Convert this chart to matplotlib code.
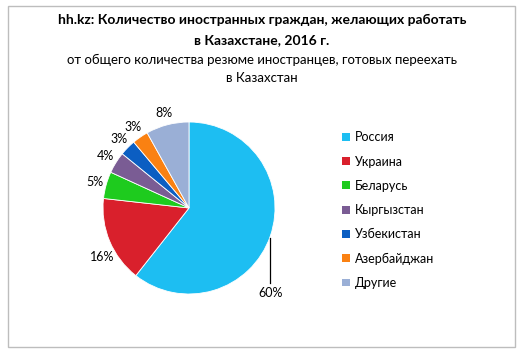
import numpy as np
import matplotlib
matplotlib.use("Agg")
import matplotlib.pyplot as plt
from matplotlib.patches import Rectangle, Patch

plt.rcParams['font.family'] = ['Lato', 'DejaVu Sans']

categories = ["Россия", "Украина", "Беларусь", "Кыргызстан", "Узбекистан", "Азербайджан", "Другие"]
values = [60, 16, 5, 4, 3, 3, 8]
colors = ["#1DBEF2", "#D9202C", "#1ECB1E", "#7A5C94", "#0B5EC2", "#FA8112", "#9AAFD6"]
title_lines = ["hh.kz: Количество иностранных граждан, желающих работать", "в Казахстане, 2016 г."]
subtitle_lines = ["от общего количества резюме иностранцев, готовых переехать", "в Казахстан"]

W, H = 526, 358
fig = plt.figure(figsize=(W / 100, H / 100), dpi=100)

# frame
fig.patches.append(Rectangle((8 / W, 1 - 347 / H), (515 - 8) / W, (347 - 6) / H,
                             transform=fig.transFigure, fill=False, edgecolor="#BDBDBD", lw=1))

cx, cy, R = 189, 208, 86
lim = 1.6
S = 2 * lim * R
ax = fig.add_axes([(cx - S / 2) / W, (H - cy - S / 2) / H, S / W, S / H])

wedges, _ = ax.pie(values, colors=colors, startangle=90, counterclock=False, radius=1,
                   wedgeprops=dict(linewidth=0.6, edgecolor="white"))
ax.set_xlim(-lim, lim)
ax.set_ylim(-lim, lim)
ax.set_aspect('equal')
ax.axis('off')

for i, (w, v) in enumerate(zip(wedges, values)):
    th = np.deg2rad((w.theta1 + w.theta2) / 2)
    if i == 0:
        x0, y0 = np.cos(th), np.sin(th)
        ax.plot([x0, x0], [y0 - 0.02, y0 - 0.55], color="black", lw=0.9)
        ax.text(x0, y0 - 0.66, f"{v}%", ha="center", va="center", fontsize=9)
    else:
        d = 1.14
        if i == 1:
            th = th + np.deg2rad(7)
            d = 1.16
        ax.text(d * np.cos(th), d * np.sin(th), f"{v}%", ha="center", va="center", fontsize=9)

for k, t in enumerate(title_lines):
    fig.text(262 / W, 1 - (20 + 20 * k) / H, t, ha="center", va="center", fontsize=10, fontweight="bold")
for k, t in enumerate(subtitle_lines):
    fig.text(262 / W, 1 - (60 + 18 * k) / H, t, ha="center", va="center", fontsize=9.5)

handles = [Patch(facecolor=c, edgecolor="none") for c in colors]
fig.legend(handles, categories, loc="upper left", bbox_to_anchor=(331 / W, 1 - 120 / H),
           frameon=False, fontsize=9, handlelength=0.6, handleheight=0.6,
           handletextpad=0.4, labelspacing=0.98)

fig.savefig("out.png", dpi=100)
